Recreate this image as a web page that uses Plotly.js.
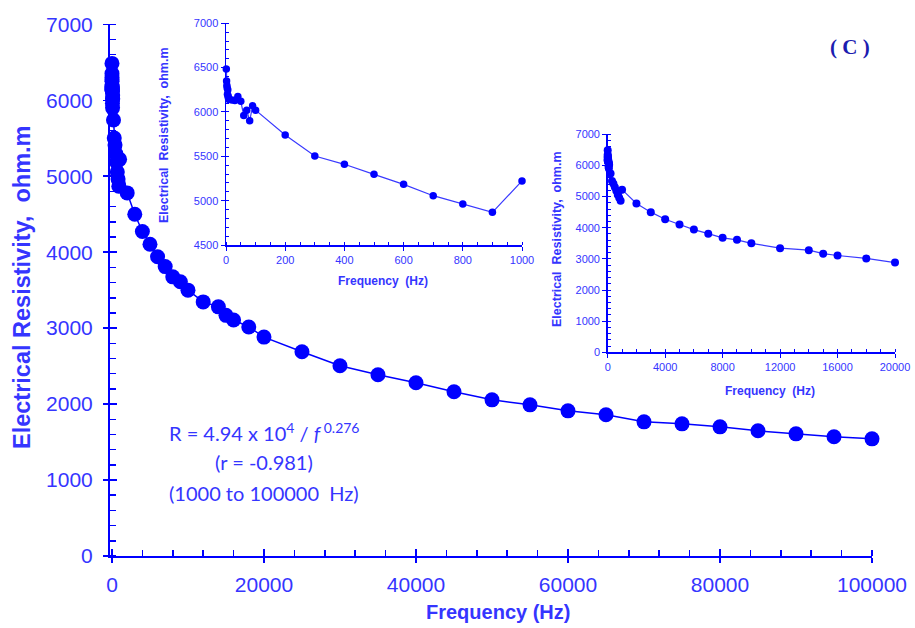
<!DOCTYPE html>
<html>
<head>
<meta charset="utf-8">
<script src="https://cdn.plot.ly/plotly-3.0.1.min.js"></script>
<style>html,body{margin:0;padding:0;background:#fff;}#chart{width:915px;height:628px;}</style>
</head>
<body>
<div id="chart"></div>
<script>
// Frequency (Hz) and electrical resistivity (ohm.m)
var frequency = [1,2,3,4,5,6,7,8,9,10,20,30,40,50,60,70,80,90,100,
  200,300,400,500,600,700,800,900,1000,
  2000,3000,4000,5000,6000,7000,8000,9000,10000,12000,14000,15000,16000,18000,20000,
  25000,30000,35000,40000,45000,50000,55000,60000,65000,70000,75000,80000,85000,90000,95000,100000];
var resistivity = [6485,6350,6300,6270,6200,6250,6180,6160,6150,6140,6135,6130,6175,6120,5960,6020,5900,6070,6020,
  5741,5504,5410,5297,5184,5056,4962,4868,5222,
  4780,4500,4272,4105,3940,3810,3675,3610,3500,3345,3280,3168,3108,3015,2882,
  2689,2505,2386,2280,2162,2056,1990,1911,1859,1766,1740,1700,1648,1608,1569,1542];

var xTitle = "Frequency (Hz)";
var xTitleInset = "Frequency  (Hz)";
var yTitle = "Electrical Resistivity,  ohm.m";
var yTitleInset = "Electrical  Resistivity,  ohm.m";
var panelLabel = "( C )";
var eqLines = ["R = 4.94 x 10<sup>4</sup> / <i>f</i><sup> 0.276</sup>", "(r = -0.981)", "(1000 to 100000  Hz)"];

function subset(maxF) {
  var xs = [], ys = [];
  for (var i = 0; i < frequency.length; i++) {
    if (frequency[i] <= maxF) { xs.push(frequency[i]); ys.push(resistivity[i]); }
  }
  return {x: xs, y: ys};
}

var W = 915, H = 628;
function px(a, b) { return [a / W, b / W]; }
function py(top, bottom) { return [(H - bottom) / H, (H - top) / H]; }

var BLUE = '#0000ff';
var TXT = '#3535ff';
var SANS = '"Liberation Sans", Arial, sans-serif';

var s1 = subset(1000), s2 = subset(20000);

var traces = [
  {x: frequency, y: resistivity, xaxis: 'x', yaxis: 'y', type: 'scatter', mode: 'lines+markers',
   line: {color: BLUE, width: 1.5}, marker: {color: BLUE, size: 15}, cliponaxis: false},
  {x: s1.x, y: s1.y, xaxis: 'x2', yaxis: 'y2', type: 'scatter', mode: 'lines+markers',
   line: {color: '#3a3aff', width: 1.2}, marker: {color: BLUE, size: 7.5}, cliponaxis: false},
  {x: s2.x, y: s2.y, xaxis: 'x3', yaxis: 'y3', type: 'scatter', mode: 'lines+markers',
   line: {color: '#3a3aff', width: 1.2}, marker: {color: BLUE, size: 8}, cliponaxis: false},
  {x: [], y: [], xaxis: 'x4', yaxis: 'y4', type: 'scatter', mode: 'markers', hoverinfo: 'skip'}
];

function ax(opts) {
  var base = {
    showline: true, linecolor: BLUE, linewidth: 2, showgrid: false, zeroline: false,
    ticks: 'outside', tickcolor: BLUE, tickwidth: 1.5, tickformat: 'd',
    fixedrange: true
  };
  for (var k in opts) base[k] = opts[k];
  return base;
}

var mainX = px(110, 872), mainY = py(24.3, 556);
var mainXRange = [-260, 100000], mainYRange = [0, 7000];

function ann(x, y, text, font, extra) {
  var a = {xref: 'paper', yref: 'paper', x: x / W, y: (H - y) / H, text: text, showarrow: false,
    xanchor: 'center', yanchor: 'middle', font: font};
  if (extra) for (var k in extra) a[k] = extra[k];
  return a;
}

var layout = {
  width: W, height: H,
  margin: {l: 0, r: 0, t: 0, b: 0},
  paper_bgcolor: '#ffffff', plot_bgcolor: 'rgba(0,0,0,0)',
  showlegend: false,
  xaxis: ax({domain: mainX, range: mainXRange, anchor: 'y', dtick: 20000, ticklen: 5,
    tickfont: {family: SANS, size: 21, color: TXT}, ticklabelstandoff: 4,
    minor: {dtick: 4000, ticks: 'inside', ticklen: 6, tickcolor: BLUE, tickwidth: 1.5}}),
  yaxis: ax({domain: mainY, range: mainYRange, anchor: 'x', dtick: 1000, ticklen: 5,
    tickfont: {family: SANS, size: 21, color: TXT}, ticklabelstandoff: 6,
    minor: {dtick: 200, ticks: 'inside', ticklen: 6, tickcolor: BLUE, tickwidth: 1.5}}),
  xaxis4: {domain: mainX, range: mainXRange, anchor: 'y4', overlaying: 'x', dtick: 20000, ticks: 'inside',
    ticklen: 7, tickcolor: BLUE, tickwidth: 1.5, showticklabels: false, showline: false, showgrid: false,
    zeroline: false, fixedrange: true},
  yaxis4: {domain: mainY, range: mainYRange, anchor: 'x4', overlaying: 'y', dtick: 1000, ticks: 'inside',
    ticklen: 7, tickcolor: BLUE, tickwidth: 1.5, showticklabels: false, showline: false, showgrid: false,
    zeroline: false, fixedrange: true},
  xaxis2: ax({domain: px(226, 522), range: [0, 1000], anchor: 'y2', dtick: 200, ticklen: 4, tickwidth: 1,
    tickfont: {family: SANS, size: 11, color: TXT}, linewidth: 1.5,
    minor: {dtick: 50, ticks: 'inside', ticklen: 3, tickcolor: BLUE, tickwidth: 1}}),
  yaxis2: ax({domain: py(23.3, 245), range: [4500, 7000], anchor: 'x2', dtick: 500, ticklen: 4, tickwidth: 1,
    tickfont: {family: SANS, size: 11, color: TXT}, linewidth: 1.5,
    minor: {dtick: 100, ticks: 'inside', ticklen: 3, tickcolor: BLUE, tickwidth: 1}}),
  xaxis3: ax({domain: px(607.7, 895), range: [0, 20000], anchor: 'y3', dtick: 4000, ticklen: 4, tickwidth: 1,
    tickfont: {family: SANS, size: 11, color: TXT}, linewidth: 1.5,
    minor: {dtick: 1000, ticks: 'inside', ticklen: 3, tickcolor: BLUE, tickwidth: 1}}),
  yaxis3: ax({domain: py(134.3, 352.3), range: [0, 7000], anchor: 'x3', dtick: 1000, ticklen: 4, tickwidth: 1,
    tickfont: {family: SANS, size: 11, color: TXT}, linewidth: 1.5,
    minor: {dtick: 200, ticks: 'inside', ticklen: 3, tickcolor: BLUE, tickwidth: 1}}),
  annotations: [
    ann(498, 612, xTitle, {family: SANS, size: 20, color: TXT, weight: 'bold'}),
    ann(22, 288, yTitle, {family: SANS, size: 23.5, color: TXT, weight: 'bold'}, {textangle: -90}),
    ann(383, 281, xTitleInset, {family: SANS, size: 12, color: TXT, weight: 'bold'}),
    ann(164, 135, yTitleInset, {family: SANS, size: 12.5, color: TXT, weight: 'bold'}, {textangle: -90}),
    ann(770, 391, xTitleInset, {family: SANS, size: 12, color: TXT, weight: 'bold'}),
    ann(557, 239, yTitleInset, {family: SANS, size: 12.5, color: TXT, weight: 'bold'}, {textangle: -90}),
    ann(850, 47, panelLabel, {family: '"Liberation Serif", "Times New Roman", serif', size: 21, color: '#1c1cb0', weight: 'bold'}),
    ann(264, 432, eqLines[0], {family: 'Lato, "Open Sans", sans-serif', size: 20, color: TXT}),
    ann(264, 462, eqLines[1], {family: 'Lato, "Open Sans", sans-serif', size: 20, color: TXT}),
    ann(264, 493, eqLines[2], {family: 'Lato, "Open Sans", sans-serif', size: 20, color: TXT})
  ]
};

Plotly.newPlot('chart', traces, layout, {staticPlot: true, displayModeBar: false});
</script>
</body>
</html>
